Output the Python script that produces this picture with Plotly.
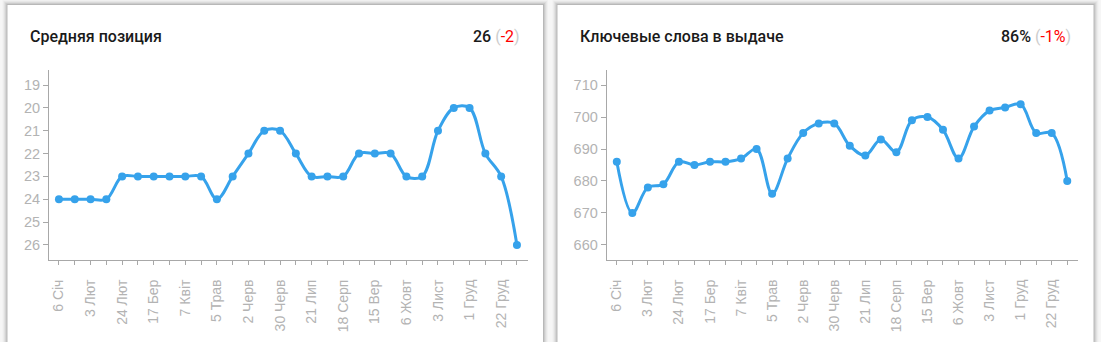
import plotly.graph_objects as go

# ---- data ----
date_labels = ["6 Січ", "3 Лют", "24 Лют", "17 Бер", "7 Квіт", "5 Трав", "2 Черв",
               "30 Черв", "21 Лип", "18 Серп", "15 Вер", "6 Жовт", "3 Лист", "1 Груд", "22 Груд"]
avg_position = [24, 24, 24, 24, 23, 23, 23, 23, 23, 23, 24, 23, 22, 21, 21,
                22, 23, 23, 23, 22, 22, 22, 23, 23, 21, 20, 20, 22, 23, 26]
keywords_in_serp = [686, 670, 678, 679, 686, 685, 686, 686, 687, 690, 676, 687, 695, 698, 698,
                    691, 688, 693, 689, 699, 700, 696, 687, 697, 702, 703, 704, 695, 695, 680]
pos_ticks = [19, 20, 21, 22, 23, 24, 25, 26]
kw_ticks = [660, 670, 680, 690, 700, 710]

W, H = 1101, 342
n = len(avg_position)
idx = list(range(n))
ticktext = []
for i in idx:
    ticktext.append(date_labels[i // 2] if i % 2 == 0 else "")

BLUE = "#36A2EB"
GRAY = "#b3b3b3"
AXC = "#a8a8a8"
TICKFONT = dict(family="Liberation Sans, Arial, sans-serif", size=14, color=GRAY)

def px(x):
    return x / W

def py(y):
    return (H - y) / H

fig = go.Figure()
fig.add_trace(go.Scatter(x=idx, y=avg_position, mode="lines+markers",
                         line=dict(color=BLUE, width=3, shape="spline", smoothing=1),
                         marker=dict(color=BLUE, size=8), xaxis="x", yaxis="y",
                         hoverinfo="skip", showlegend=False))
fig.add_trace(go.Scatter(x=idx, y=keywords_in_serp, mode="lines+markers",
                         line=dict(color=BLUE, width=3, shape="spline", smoothing=1),
                         marker=dict(color=BLUE, size=8), xaxis="x2", yaxis="y2",
                         hoverinfo="skip", showlegend=False))

xcommon = dict(tickmode="array", tickvals=idx, ticktext=ticktext, tickangle=-90,
               ticks="outside", ticklen=4, tickcolor=AXC, showline=True, linecolor=AXC,
               linewidth=1, showgrid=False, zeroline=False, tickfont=TICKFONT,
               ticklabelstandoff=9)
ycommon = dict(ticks="outside", ticklen=5, tickcolor=AXC, showline=True, linecolor=AXC,
               linewidth=1, showgrid=False, zeroline=False, tickfont=dict(TICKFONT, size=14.5))

fig.update_layout(
    width=W, height=H,
    margin=dict(l=0, r=0, t=0, b=0),
    paper_bgcolor="#f6f6f6",
    plot_bgcolor="rgba(0,0,0,0)",
    xaxis=dict(xcommon, domain=[px(49), px(528)], range=[-0.63, 29.7], anchor="y"),
    yaxis=dict(ycommon, domain=[py(260), py(70)], range=[26.66, 18.34],
               tickvals=pos_ticks, anchor="x"),
    xaxis2=dict(xcommon, domain=[px(606.7), px(1077.8)], range=[-0.65, 29.68], anchor="y2"),
    yaxis2=dict(ycommon, domain=[py(260), py(70)], range=[655.3, 714.7],
                tickvals=kw_ticks, anchor="x2"),
)

# cards with soft shadow
shapes = []
for (x0, x1) in [(7.5, 543), (557.5, 1093.5)]:
    for k, op in [(5, 0.025), (4, 0.035), (3, 0.05), (2, 0.07), (1, 0.09)]:
        shapes.append(dict(type="rect", xref="paper", yref="paper",
                           x0=px(x0 - k), x1=px(x1 + k), y0=-0.1, y1=py(5 - k),
                           fillcolor=f"rgba(0,0,0,{op})", line=dict(width=0), layer="below"))
    shapes.append(dict(type="rect", xref="paper", yref="paper",
                       x0=px(x0), x1=px(x1), y0=-0.1, y1=py(5),
                       fillcolor="white", line=dict(width=0), layer="below"))
fig.update_layout(shapes=shapes)

TFONT = dict(family="Roboto, sans-serif", size=16, color="#1a1a1a", weight=500)
ann = [
    dict(text="Средняя позиция", x=px(28), y=py(36), xanchor="left"),
    dict(text="26 <span style='color:#cccccc;font-weight:400'>(</span><span style='color:#ff0000;font-weight:400'>-2</span><span style='color:#cccccc;font-weight:400'>)</span>",
         x=px(522), y=py(36), xanchor="right"),
    dict(text="Ключевые слова в выдаче", x=px(578), y=py(36), xanchor="left"),
    dict(text="86% <span style='color:#cccccc;font-weight:400'>(</span><span style='color:#ff0000;font-weight:400'>-1%</span><span style='color:#cccccc;font-weight:400'>)</span>",
         x=px(1072.5), y=py(36), xanchor="right"),
]
fig.update_layout(annotations=[dict(a, xref="paper", yref="paper", yanchor="middle",
                                    showarrow=False, font=TFONT) for a in ann])

fig.write_html("out.html")
